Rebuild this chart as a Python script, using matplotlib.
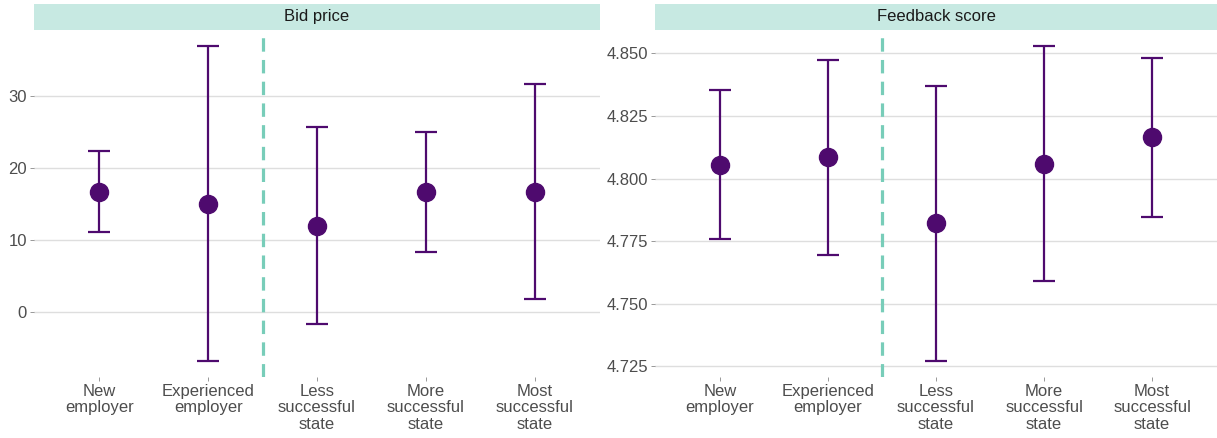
import matplotlib
matplotlib.use("Agg")
import matplotlib.pyplot as plt
from matplotlib.patches import Rectangle

categories = ["New\nemployer", "Experienced\nemployer", "Less\nsuccessful\nstate",
              "More\nsuccessful\nstate", "Most\nsuccessful\nstate"]

bid_mean = [16.6, 15.0, 12.0, 16.6, 16.6]
bid_low = [11.1, -6.8, -1.7, 8.4, 1.8]
bid_high = [22.3, 36.9, 25.7, 25.0, 31.6]

fb_mean = [4.8055, 4.8085, 4.7821, 4.8060, 4.8165]
fb_low = [4.7758, 4.7694, 4.7271, 4.7592, 4.7847]
fb_high = [4.8354, 4.8475, 4.8370, 4.8530, 4.8482]

panel_titles = ["Bid price", "Feedback score"]
bid_ticks = [0, 10, 20, 30]
fb_ticks = [4.725, 4.750, 4.775, 4.800, 4.825, 4.850]

plt.rcParams['font.family'] = ['Liberation Sans', 'DejaVu Sans']

W, H = 1217, 438
fig = plt.figure(figsize=(W / 100, H / 100), dpi=100)

purple = "#4E0A6E"
strip_col = "#C7E9E2"
dash_col = "#78CDB9"
grid_col = "#DEDEDE"
text_col = "#4D4D4D"
fs = 12

panels = [
    dict(x0=34, x1=600, mean=bid_mean, low=bid_low, high=bid_high,
         ticks=bid_ticks, fmt="{:g}", title=panel_titles[0]),
    dict(x0=655, x1=1217, mean=fb_mean, low=fb_low, high=fb_high,
         ticks=fb_ticks, fmt="{:.3f}", title=panel_titles[1]),
]

top_px, bot_px = 30, 377
strip_top, strip_bot = 4, 29.5

for p in panels:
    ax = fig.add_axes([p["x0"] / W, 1 - bot_px / H, (p["x1"] - p["x0"]) / W,
                       (bot_px - top_px) / H])
    x = list(range(1, len(categories) + 1))
    lo = min(p["low"]); hi = max(p["high"])
    rng = hi - lo
    ax.set_ylim(lo - 0.05 * rng, hi + 0.05 * rng)
    ax.set_xlim(0.4, len(categories) + 0.6)
    for t in p["ticks"]:
        ax.axhline(t, color=grid_col, lw=1.0, zorder=0)
    ax.axvline(2.5, color=dash_col, lw=2.3, dashes=(4.2, 2.6), zorder=1)
    yerr = [[m - l for m, l in zip(p["mean"], p["low"])],
            [h - m for m, h in zip(p["mean"], p["high"])]]
    ax.errorbar(x, p["mean"], yerr=yerr, fmt="none", ecolor=purple,
                elinewidth=1.6, capsize=7.8, capthick=1.6, zorder=3)
    ax.plot(x, p["mean"], "o", color=purple, ms=13, zorder=4)
    ax.set_xticks(x)
    ax.set_xticklabels(categories, fontsize=fs, color=text_col,
                       linespacing=1.12)
    ax.set_yticks(p["ticks"])
    ax.set_yticklabels([p["fmt"].format(t) for t in p["ticks"]],
                       fontsize=fs, color=text_col)
    ax.tick_params(axis="both", length=3, width=0.6, color="#888888", pad=2)
    for s in ax.spines.values():
        s.set_visible(False)
    ax.set_facecolor("none")
    # strip
    sax = fig.add_axes([p["x0"] / W, 1 - strip_bot / H, (p["x1"] - p["x0"]) / W,
                        (strip_bot - strip_top) / H])
    sax.add_patch(Rectangle((0, 0), 1, 1, color=strip_col, transform=sax.transAxes))
    sax.text(0.5, 0.5, p["title"], ha="center", va="center", fontsize=fs,
             color="#1A1A1A", transform=sax.transAxes)
    sax.set_axis_off()

fig.savefig("out.png", dpi=100)
